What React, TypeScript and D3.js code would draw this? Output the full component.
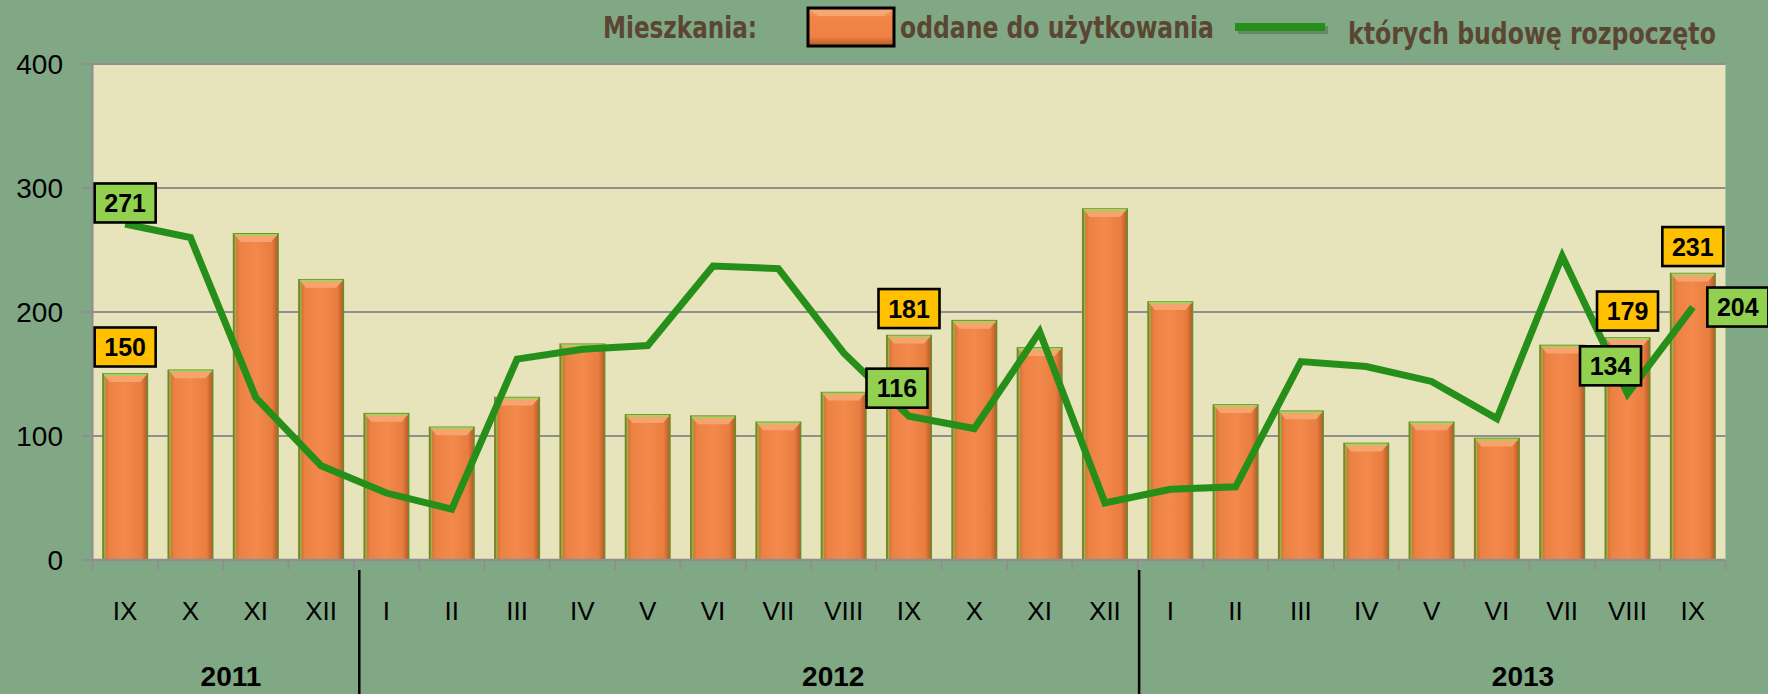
import React, { useLayoutEffect, useRef, useState } from 'react';
import * as d3 from 'd3';

const months = ['IX', 'X', 'XI', 'XII', 'I', 'II', 'III', 'IV', 'V', 'VI', 'VII', 'VIII', 'IX', 'X', 'XI', 'XII', 'I', 'II', 'III', 'IV', 'V', 'VI', 'VII', 'VIII', 'IX'];
const completed = [150, 153, 263, 226, 118, 107, 131, 174, 117, 116, 111, 135, 181, 193, 171, 283, 208, 125, 120, 94, 111, 98, 173, 179, 231];
const started = [271, 260, 131, 76, 54, 41, 162, 170, 173, 237, 235, 167, 116, 106, 184, 46, 57, 59, 160, 156, 144, 114, 245, 134, 204];
const yTicks = [0, 100, 200, 300, 400];
const years = ['2011', '2012', '2013'];
const yearCenters = [2.12, 11.34, 21.9];
const yearSeparators = [4, 16];
const separatorShift = [5.5, 1.5];
const barLabelIdx = [0, 12, 23, 24];
const lineLabelIdx = [0, 12, 23, 24];
const lineLabelOffsets: [number, number][] = [[0, -21], [-12, -28], [-17, -28], [45, 0]];
const legendTitle = 'Mieszkania:';
const legendBars = 'oddane do użytkowania';
const legendLineA = 'których ';
const legendLineB = 'budowę rozpoczęto';

const W = 1768;
const H = 694;
const X0 = 92.5;
const X1 = 1725.5;
const BG = '#81a885';
const PLOT = '#e7e3bb';
const BROWN = '#5a4631';
const LINE = '#268f19';

export default function App() {
  const idx = d3.range(months.length);
  const x = d3.scaleBand<number>().domain(idx).range([X0, X1]).paddingInner(0.32).paddingOuter(0.16);
  const step = x.step();
  const bw = x.bandwidth();
  const cx = (i: number) => (x(i) as number) + bw / 2;
  const y = d3.scaleLinear().domain([0, 400]).range([560, 64]);

  const line = d3.line<number>().x((d, i) => cx(i)).y((d) => y(d));

  const refs = useRef<(SVGTextElement | null)[]>([]);
  const targetWidths = [154, 314, 368];
  const [scales, setScales] = useState<number[]>([1, 1, 1]);
  useLayoutEffect(() => {
    const s = refs.current.map((el, k) => {
      if (!el) return 1;
      const w = el.getComputedTextLength();
      return w > 0 ? targetWidths[k] / w : 1;
    });
    setScales(s);
  }, []);

  const boxW = 61;
  const boxH = 39;
  const label = (key: string, xc: number, yc: number, v: number, fill: string) => (
    <g key={key}>
      <rect x={xc - boxW / 2} y={yc - boxH / 2} width={boxW} height={boxH} fill={fill} stroke="#000" strokeWidth={2.6} />
      <text x={xc} y={yc + 9} textAnchor="middle" fontFamily="'Liberation Sans', Arial, sans-serif" fontWeight="bold" fontSize={25} fill="#000">{v}</text>
    </g>
  );

  const legendFont = "'Liberation Sans Narrow', 'DejaVu Sans Condensed', 'Liberation Sans', sans-serif";

  return (
    <svg width={W} height={H} style={{ position: 'absolute', left: 0, top: 0, display: 'block' }}>
      <defs>
        <linearGradient id="barGrad" x1="0" y1="0" x2="1" y2="0">
          <stop offset="0%" stopColor="#c8652c" />
          <stop offset="14%" stopColor="#ec8144" />
          <stop offset="50%" stopColor="#f3894c" />
          <stop offset="86%" stopColor="#e97d40" />
          <stop offset="100%" stopColor="#b65a27" />
        </linearGradient>
        <linearGradient id="legGrad" x1="0" y1="0" x2="0" y2="1">
          <stop offset="0%" stopColor="#f7a064" />
          <stop offset="25%" stopColor="#f08546" />
          <stop offset="75%" stopColor="#ee8144" />
          <stop offset="100%" stopColor="#b85a26" />
        </linearGradient>
      </defs>
      <rect x={0} y={0} width={W} height={H} fill={BG} />

      {/* plot area */}
      <rect x={X0} y={y(400)} width={X1 - X0} height={y(0) - y(400)} fill={PLOT} />
      {yTicks.filter((t) => t > 0).map((t) => (
        <line key={'g' + t} x1={82} x2={X1} y1={y(t)} y2={y(t)} stroke="#8f8f8f" strokeWidth={2} />
      ))}
      <line x1={X0} x2={X0} y1={y(400)} y2={y(0)} stroke="#8f8f8f" strokeWidth={2} />

      {/* bars */}
      {completed.map((v, i) => {
        const bx = x(i) as number;
        const top = y(v);
        const h = y(0) - top;
        return (
          <g key={'b' + i}>
            <rect x={bx} y={top} width={bw} height={h} fill="url(#barGrad)" stroke="#6e8b2c" strokeWidth={1.6} />
            <polygon points={`${bx + 1},${top + 1} ${bx + bw - 1},${top + 1} ${bx + bw - 7},${top + 8} ${bx + 7},${top + 8}`} fill="#f7a36e" />
            <line x1={bx + 1} x2={bx + bw - 1} y1={top + 1} y2={top + 1} stroke="#a9d05c" strokeWidth={2} />
            <line x1={bx + 2} x2={bx + 2} y1={top + 2} y2={y(0)} stroke="#8fb848" strokeWidth={1.5} />
          </g>
        );
      })}

      {/* x axis */}
      <line x1={82} x2={X1} y1={y(0)} y2={y(0)} stroke="#8f8f8f" strokeWidth={2.5} />
      {d3.range(months.length + 1).map((k) => (
        <line key={'t' + k} x1={X0 + k * step} x2={X0 + k * step} y1={y(0)} y2={y(0) + 10} stroke="#8f8f8f" strokeWidth={2} />
      ))}
      {yTicks.map((t) => (
        <text key={'yl' + t} x={63} y={y(t) + 10} textAnchor="end" fontFamily="'Liberation Sans', Arial, sans-serif" fontSize={28} fill="#000">{t}</text>
      ))}
      {months.map((m, i) => (
        <text key={'m' + i} x={cx(i)} y={620} textAnchor="middle" fontFamily="'Liberation Sans', Arial, sans-serif" fontSize={26} fill="#000">{m}</text>
      ))}
      {years.map((yr, k) => (
        <text key={'y' + yr} x={X0 + yearCenters[k] * step} y={686} textAnchor="middle" fontFamily="'Liberation Sans', Arial, sans-serif" fontWeight="bold" fontSize={28} fill="#000">{yr}</text>
      ))}
      {yearSeparators.map((b, k) => (
        <line key={'s' + b} x1={X0 + b * step + separatorShift[k]} x2={X0 + b * step + separatorShift[k]} y1={570} y2={H} stroke="#000" strokeWidth={2.5} />
      ))}

      {/* line */}
      <path d={line(started) || ''} fill="none" stroke={LINE} strokeWidth={7} strokeLinejoin="miter" strokeMiterlimit={3} />

      {/* data labels */}
      {barLabelIdx.map((i) => label('bl' + i, cx(i), y(completed[i]) - 27, completed[i], '#ffc000'))}
      {lineLabelIdx.map((i, k) => label('ll' + i, cx(i) + lineLabelOffsets[k][0], y(started[i]) + lineLabelOffsets[k][1], started[i], '#92d050'))}

      {/* legend */}
      <text ref={(el) => { refs.current[0] = el; }} transform={`translate(603,38) scale(${scales[0]},1)`} x={0} y={0} fontFamily={legendFont} fontWeight="bold" fontSize={31} fill={BROWN}>{legendTitle}</text>
      <rect x={808} y={8} width={86} height={38} fill="url(#legGrad)" stroke="#000" strokeWidth={3} />
      <polygon points="810,10 892,10 884,16 818,16" fill="#f8ab78" opacity={0.8} />
      <text ref={(el) => { refs.current[1] = el; }} transform={`translate(900,38) scale(${scales[1]},1)`} x={0} y={0} fontFamily={legendFont} fontWeight="bold" fontSize={31} fill={BROWN}>{legendBars}</text>
      <rect x={1238} y={26} width={90} height={8} fill="#000" opacity={0.2} />
      <rect x={1235} y={23} width={90} height={8} fill={LINE} />
      <text ref={(el) => { refs.current[2] = el; }} transform={`translate(1348,44) scale(${scales[2]},1)`} x={0} y={0} fontFamily={legendFont} fontSize={31} fill={BROWN}>
        <tspan fontWeight="600">{legendLineA}</tspan>
        <tspan fontWeight="bold">{legendLineB}</tspan>
      </text>
    </svg>
  );
}
